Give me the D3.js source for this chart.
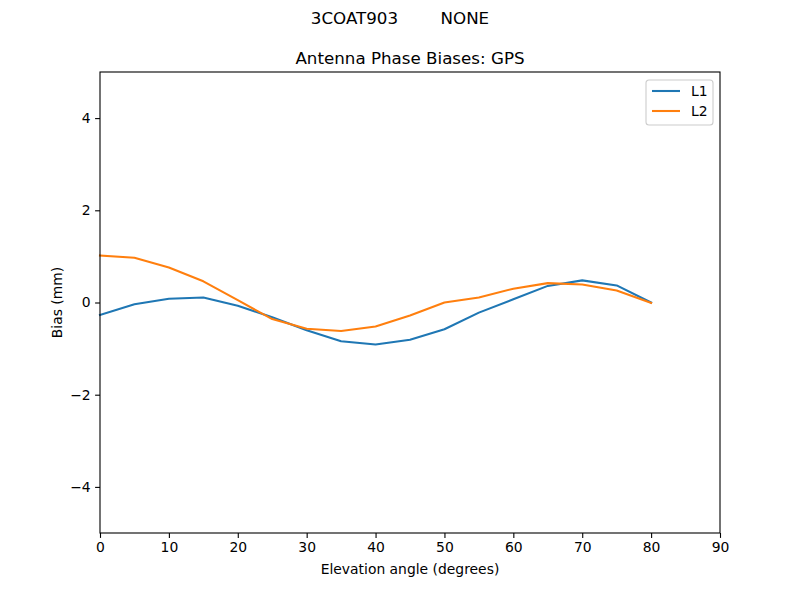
<!DOCTYPE html>
<html>
<head>
<meta charset="utf-8">
<script src="https://cdn.jsdelivr.net/npm/d3@7"></script>
<style>
  body { margin: 0; background: #fff; }
  text { font-family: "DejaVu Sans", sans-serif; }
</style>
</head>
<body>
<div id="container_div"></div>
<script>
/*
 * Chart data
 */
var gvElevation = [0, 5, 10, 15, 20, 25, 30, 35, 40, 45, 50, 55, 60, 65, 70, 75, 80];
var gvL1 = [-0.27, -0.04, 0.08, 0.11, -0.07, -0.32, -0.60, -0.84, -0.91, -0.81, -0.58, -0.22, 0.07, 0.36, 0.48, 0.37, 0.00];
var gvL2 = [1.02, 0.97, 0.76, 0.46, 0.05, -0.36, -0.57, -0.62, -0.52, -0.28, 0.00, 0.11, 0.30, 0.42, 0.39, 0.26, -0.01];
var gvXTicks = [0, 10, 20, 30, 40, 50, 60, 70, 80, 90];
var gvYTicks = [-4, -2, 0, 2, 4];
var gvSeries = [
  { name: 'L1', values: gvL1, colour: '#1f77b4' },
  { name: 'L2', values: gvL2, colour: '#ff7f0e' }
];

/*
 * Build the chart
 */
function buildChart() {

  var width = 800, height = 600;
  var margin = { left: 100, right: 80, top: 72, bottom: 67 };
  var plotW = width - margin.left - margin.right;
  var plotH = height - margin.top - margin.bottom;

  var svg = d3.select('#container_div')
    .append('svg')
    .attr('width', width)
    .attr('height', height);

  var x_scale = d3.scaleLinear().domain([0, 90]).range([0, plotW]);
  var y_scale = d3.scaleLinear().domain([-5, 5]).range([plotH, 0]);

  var g = svg.append('g')
    .attr('transform', 'translate(' + margin.left + ',' + margin.top + ')');

  // lines
  var line = d3.line()
    .x(function(d, i) { return x_scale(gvElevation[i]); })
    .y(function(d) { return y_scale(d); });

  gvSeries.forEach(function(s) {
    g.append('path')
      .datum(s.values)
      .attr('fill', 'none')
      .attr('stroke', s.colour)
      .attr('stroke-width', 2.08)
      .attr('stroke-linejoin', 'round')
      .attr('stroke-linecap', 'square')
      .attr('d', line);
  });

  // axes
  var x_axis = d3.axisBottom(x_scale).tickValues(gvXTicks).tickSize(4.9).tickPadding(4.5);
  var y_axis = d3.axisLeft(y_scale).tickValues(gvYTicks).tickSize(4.9).tickPadding(4.5)
    .tickFormat(function(d) { return d < 0 ? '\u2212' + Math.abs(d) : d; });

  var gx = g.append('g').attr('transform', 'translate(0,' + plotH + ')').call(x_axis);
  var gy = g.append('g').call(y_axis);

  [gx, gy].forEach(function(ax) {
    ax.select('.domain').remove();
    ax.selectAll('text').attr('font-size', '13.9px').attr('fill', '#000')
      .style('font-family', '"DejaVu Sans", sans-serif');
    ax.selectAll('line').attr('stroke', '#000').attr('stroke-width', 1.1);
  });

  // frame
  g.append('rect')
    .attr('width', plotW)
    .attr('height', plotH)
    .attr('fill', 'none')
    .attr('stroke', '#000')
    .attr('stroke-width', 1.1);

  // labels
  svg.append('text')
    .attr('x', margin.left + plotW / 2)
    .attr('y', 574)
    .attr('text-anchor', 'middle')
    .attr('font-size', '13.9px')
    .text('Elevation angle (degrees)');

  svg.append('text')
    .attr('transform', 'translate(62,' + (margin.top + plotH / 2) + ') rotate(-90)')
    .attr('text-anchor', 'middle')
    .attr('font-size', '13.9px')
    .text('Bias (mm)');

  svg.append('text')
    .attr('x', margin.left + plotW / 2)
    .attr('y', 64)
    .attr('text-anchor', 'middle')
    .attr('font-size', '16.7px')
    .text('Antenna Phase Biases: GPS');

  svg.append('text')
    .attr('x', 400)
    .attr('y', 24)
    .attr('text-anchor', 'middle')
    .attr('font-size', '16.7px')
    .style('white-space', 'pre')
    .text('3COAT903        NONE');

  // legend
  var lg = svg.append('g').attr('transform', 'translate(646,80)');
  lg.append('rect')
    .attr('width', 67)
    .attr('height', 45)
    .attr('rx', 3)
    .attr('fill', '#fff')
    .attr('fill-opacity', 0.8)
    .attr('stroke', '#ccc')
    .attr('stroke-width', 1.1);

  gvSeries.forEach(function(s, i) {
    var yy = 11 + i * 20;
    lg.append('line')
      .attr('x1', 6).attr('x2', 34)
      .attr('y1', yy).attr('y2', yy)
      .attr('stroke', s.colour)
      .attr('stroke-width', 2.08);
    lg.append('text')
      .attr('x', 45)
      .attr('y', yy + 5)
      .attr('font-size', '13.9px')
      .text(s.name);
  });
}

buildChart();
</script>
</body>
</html>
